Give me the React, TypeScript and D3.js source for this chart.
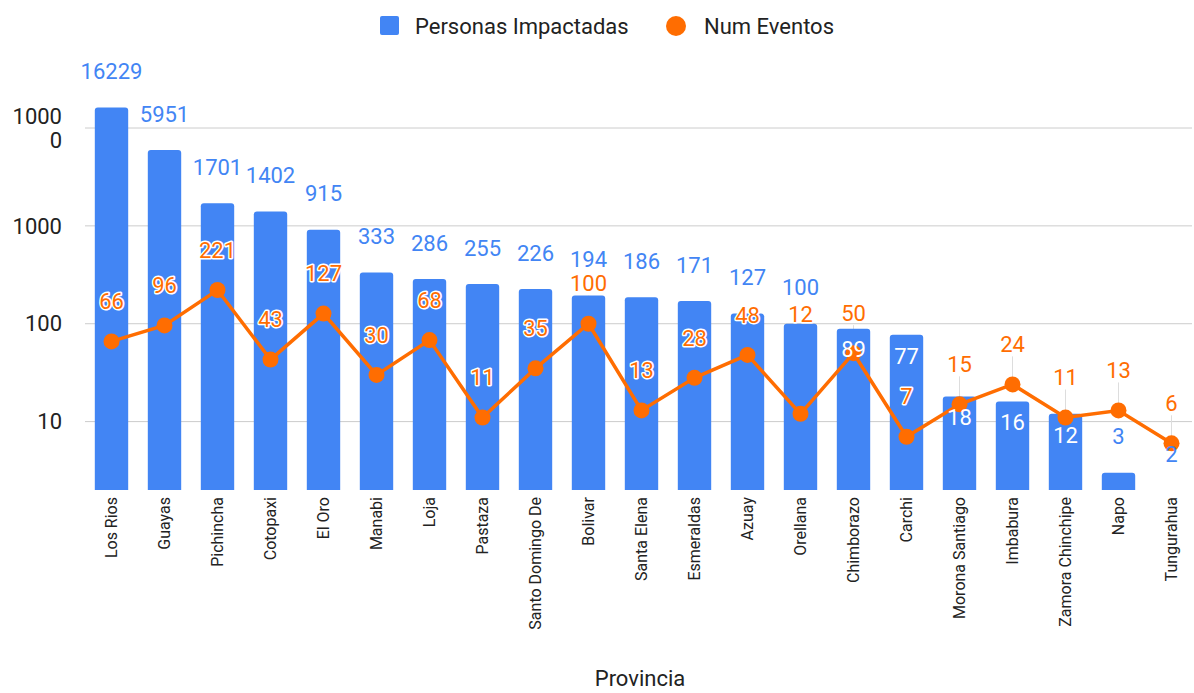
import * as d3 from "d3";

// datos
const provincias = [
  "Los Rios", "Guayas", "Pichincha", "Cotopaxi", "El Oro", "Manabi", "Loja",
  "Pastaza", "Santo Domingo De", "Bolivar", "Santa Elena", "Esmeraldas", "Azuay",
  "Orellana", "Chimborazo", "Carchi", "Morona Santiago", "Imbabura",
  "Zamora Chinchipe", "Napo", "Tungurahua",
];
const personasImpactadas = [
  16229, 5951, 1701, 1402, 915, 333, 286, 255, 226, 194, 186, 171, 127, 100, 89,
  77, 18, 16, 12, 3, 2,
];
const numEventos = [
  66, 96, 221, 43, 127, 30, 68, 11, 35, 100, 13, 28, 48, 12, 50, 7, 15, 24, 11,
  13, 6,
];
const yTicks = [10, 100, 1000, 10000];

const W = 1194;
const H = 693;
const BLUE = "#4285F4";
const ORANGE = "#FF6D01";
const FONT = "Roboto, 'Noto Sans', sans-serif";

// etiquetas que van dentro de la barra / reubicadas (como hace Sheets)
const insideBar = new Set(["Chimborazo", "Carchi", "Morona Santiago", "Imbabura", "Zamora Chinchipe"]);
const liftedEvent = new Set(["Orellana"]);

export default function App() {
  const x = d3.scaleBand<string>()
    .domain(provincias)
    .range([85, 1198])
    .paddingInner(0.37)
    .paddingOuter(0.185);

  const y = d3.scaleLog()
    .domain([2, 10000])
    .range([490, 128]);

  const cx = (i: number) => x(provincias[i])! + x.bandwidth() / 2;
  const base = y(2);

  const barPath = (i: number) => {
    const x0 = x(provincias[i])!;
    const w = x.bandwidth();
    const top = y(personasImpactadas[i]);
    const r = Math.min(3, (base - top) / 2);
    if (base - top < 0.5) return "";
    return `M${x0},${base}V${top + r}Q${x0},${top} ${x0 + r},${top}H${x0 + w - r}Q${x0 + w},${top} ${x0 + w},${top + r}V${base}Z`;
  };

  const line = d3.line<number>()
    .x((_, i) => cx(i))
    .y(d => y(d));

  const eventLabelY = (i: number) => {
    if (liftedEvent.has(provincias[i])) return y(personasImpactadas[i]) - 9;
    return y(numEventos[i]) - 40;
  };

  return (
    <svg width={W} height={H} style={{ position: "absolute", left: 0, top: 0, background: "#fff" }}
      fontFamily={FONT}>
      {/* leyenda */}
      <rect x={380} y={16} width={19} height={19} rx={2} fill={BLUE} />
      <text x={415} y={34} fontSize={22} fill="#222">Personas Impactadas</text>
      <circle cx={676} cy={26} r={10} fill={ORANGE} />
      <text x={704} y={34} fontSize={22} fill="#222">Num Eventos</text>

      {/* rejilla y eje y */}
      {yTicks.map(t => (
        <g key={t}>
          <line x1={85} x2={1192} y1={y(t)} y2={y(t)} stroke="#ccc" strokeWidth={1} />
          {t === 10000 ? (
            <text x={62} y={y(t)} fontSize={22} fill="#222" textAnchor="end">
              <tspan x={62} dy={-4}>1000</tspan>
              <tspan x={62} dy={24}>0</tspan>
            </text>
          ) : (
            <text x={62} y={y(t)} dy="0.35em" fontSize={22} fill="#222" textAnchor="end">{t}</text>
          )}
        </g>
      ))}

      {/* líneas guía de etiquetas */}
      {numEventos.map((v, i) => (
        <line key={"g" + i} x1={cx(i)} x2={cx(i)} y1={eventLabelY(i) + 12} y2={y(v)}
          stroke="#ddd" strokeWidth={1} />
      ))}

      {/* barras */}
      {personasImpactadas.map((_, i) => (
        <path key={"b" + i} d={barPath(i)} fill={BLUE} />
      ))}

      {/* línea de eventos */}
      <path d={line(numEventos) ?? ""} fill="none" stroke={ORANGE} strokeWidth={3.5} />
      {numEventos.map((v, i) => (
        <circle key={"c" + i} cx={cx(i)} cy={y(v)} r={8} fill={ORANGE} />
      ))}

      {/* etiquetas de eventos */}
      {numEventos.map((v, i) => (
        <text key={"e" + i} x={cx(i)} y={eventLabelY(i)} dy="0.35em" textAnchor="middle"
          fontSize={22} fill={ORANGE} stroke="#fff" strokeWidth={3} paintOrder="stroke"
          strokeLinejoin="round">{v}</text>
      ))}

      {/* etiquetas de personas */}
      {personasImpactadas.map((v, i) => {
        const inside = insideBar.has(provincias[i]);
        const ty = inside ? y(v) + 21 : y(v) - 36;
        return (
          <text key={"p" + i} x={cx(i)} y={ty} dy="0.35em" textAnchor="middle" fontSize={22}
            fill={inside ? "#fff" : BLUE}>{v}</text>
        );
      })}

      {/* eje x */}
      {provincias.map(p => (
        <text key={p} transform={`translate(${x(p)! + x.bandwidth() / 2 + 5},497) rotate(-90)`}
          textAnchor="end" fontSize={16} fill="#222">{p}</text>
      ))}

      <text x={640} y={686} textAnchor="middle" fontSize={22} fill="#222">Provincia</text>
    </svg>
  );
}
